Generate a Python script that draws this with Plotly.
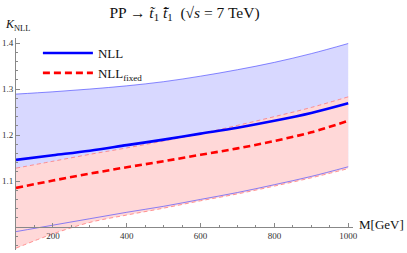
import plotly.graph_objects as go

M = [100, 200, 300, 400, 500, 600, 700, 800, 900, 1000]
nll_center = [1.146, 1.156, 1.166, 1.178, 1.190, 1.203, 1.216, 1.231, 1.248, 1.269]
nll_upper = [1.289, 1.294, 1.300, 1.307, 1.316, 1.328, 1.342, 1.358, 1.377, 1.399]
nll_lower = [0.990, 1.004, 1.018, 1.032, 1.045, 1.060, 1.075, 1.092, 1.110, 1.131]
fix_center = [1.085, 1.101, 1.116, 1.130, 1.143, 1.157, 1.171, 1.187, 1.206, 1.231]
fix_upper = [1.128, 1.143, 1.158, 1.172, 1.187, 1.203, 1.221, 1.240, 1.260, 1.283]
fix_lower = [0.954, 0.985, 1.010, 1.026, 1.041, 1.057, 1.072, 1.089, 1.107, 1.127]

x_ticks = [200, 400, 600, 800, 1000]
y_ticks = [1.1, 1.2, 1.3, 1.4]

YMIN, YMAX = 0.95, 1.411
SERIF = "Liberation Serif"

fig = go.Figure()
sp = dict(shape="spline", smoothing=1.0)

# bands
fig.add_trace(go.Scatter(x=M, y=nll_lower, mode="lines", line=dict(width=0, **sp),
                         showlegend=False, hoverinfo="skip"))
fig.add_trace(go.Scatter(x=M, y=nll_upper, mode="lines", line=dict(width=0, **sp),
                         fill="tonexty", fillcolor="rgb(216,216,255)", showlegend=False, hoverinfo="skip"))
fig.add_trace(go.Scatter(x=M, y=fix_lower, mode="lines", line=dict(width=0, **sp),
                         showlegend=False, hoverinfo="skip"))
fig.add_trace(go.Scatter(x=M, y=fix_upper, mode="lines", line=dict(width=0, **sp),
                         fill="tonexty", fillcolor="rgb(255,216,216)", showlegend=False, hoverinfo="skip"))

# band edges
for yv in (nll_upper, nll_lower):
    fig.add_trace(go.Scatter(x=M, y=yv, mode="lines",
                             line=dict(color="rgba(70,70,255,0.8)", width=0.8, **sp),
                             showlegend=False, hoverinfo="skip"))
for yv in (fix_upper, fix_lower):
    fig.add_trace(go.Scatter(x=M, y=yv, mode="lines",
                             line=dict(color="rgba(255,110,110,0.9)", width=0.8, dash="4px,3px", **sp),
                             showlegend=False, hoverinfo="skip"))

# central lines
fig.add_trace(go.Scatter(x=M, y=nll_center, mode="lines", name="NLL",
                         line=dict(color="#0000ff", width=2.6, **sp)))
fig.add_trace(go.Scatter(x=M, y=fix_center, mode="lines", name="NLL<sub>fixed</sub>",
                         line=dict(color="#ff0000", width=2.6, dash="7px,4px", **sp)))

fig.update_layout(
    template="none",
    width=407, height=253,
    margin=dict(l=16, r=54, t=38, b=3, autoexpand=False),
    paper_bgcolor="white", plot_bgcolor="white",
    font=dict(family=SERIF, color="#222"),
    title=dict(text="PP → <i>t̃</i><sub>1</sub> <i>t̃̄</i><sub>1</sub>  (√<i>s</i> = 7 TeV)",
               xref="paper", x=0.5, xanchor="center", y=0.952, yanchor="middle",
               font=dict(family=SERIF, size=15.5, color="#111")),
    showlegend=True,
    legend=dict(x=0.065, y=1.0, xanchor="left", yanchor="top", traceorder="normal",
                itemwidth=50,
                bgcolor="rgba(0,0,0,0)", font=dict(family=SERIF, size=13, color="#111"),
                tracegroupgap=2),
    xaxis=dict(range=[100, 1013], showgrid=False, zeroline=False, automargin=False,
               showline=True, linecolor="#888", linewidth=1,
               anchor="free", position=(1.0 - YMIN) / (YMAX - YMIN),
               tickvals=x_ticks, ticktext=[str(v) for v in x_ticks],
               ticks="inside", ticklen=4, tickcolor="#888",
               minor=dict(dtick=50, tick0=0, ticks="inside", ticklen=2, tickcolor="#888"),
               tickfont=dict(family=SERIF, size=9, color="#333")),
    yaxis=dict(range=[YMIN, YMAX], showgrid=False, zeroline=False, automargin=False,
               showline=True, linecolor="#888", linewidth=1,
               tickvals=y_ticks, ticktext=["1.1", "1.2", "1.3", "1.4"],
               ticks="inside", ticklen=4, tickcolor="#888",
               minor=dict(dtick=0.02, tick0=0, ticks="inside", ticklen=2, tickcolor="#888"),
               tickfont=dict(family=SERIF, size=9, color="#333")),
    annotations=[
        dict(text="<i>K</i><sub>NLL</sub>", xref="paper", yref="paper",
             x=-0.04, y=1.061, xanchor="left", yanchor="middle", showarrow=False,
             font=dict(family=SERIF, size=12, color="#111")),
        dict(text="M[GeV]", xref="paper", yref="paper",
             x=(406 - 16) / 337, y=(1.0 - YMIN) / (YMAX - YMIN) + 0.01,
             xanchor="right", yanchor="middle",
             showarrow=False, font=dict(family=SERIF, size=13, color="#111")),
    ],
)

fig.write_html("out.html", config={"displayModeBar": False},
               post_script="document.body.style.margin='0';document.body.style.overflow='hidden';")
